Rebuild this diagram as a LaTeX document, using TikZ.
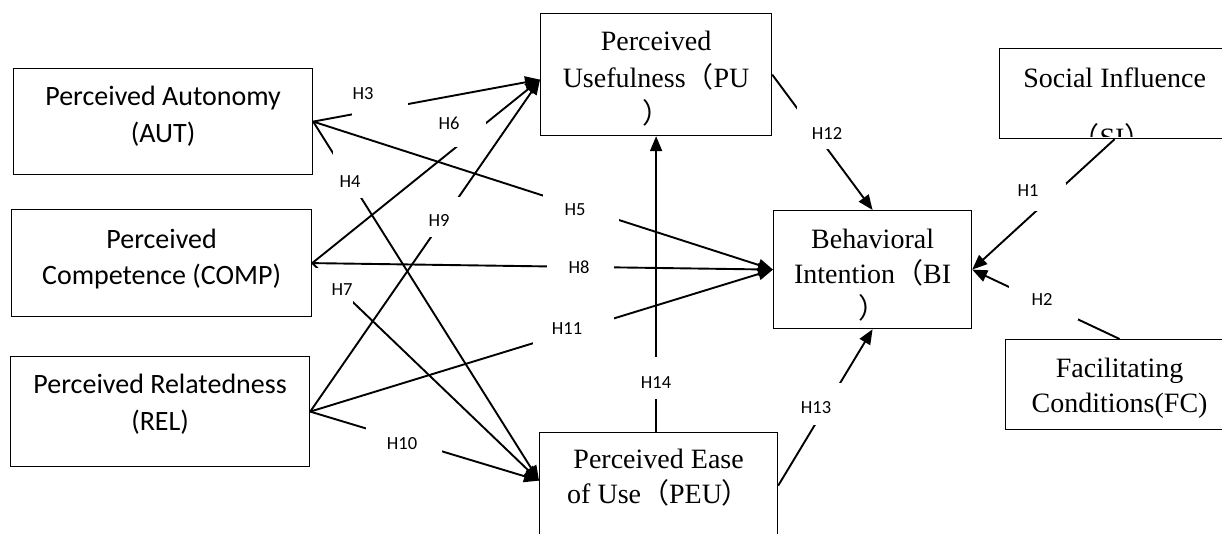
\documentclass[tikz,border=0pt]{standalone}
\usepackage{fontspec}
\setmainfont{Liberation Serif}
\newfontfamily\carlito{Carlito}
\newfontfamily\cjkf{Noto Sans CJK SC}
\usetikzlibrary{arrows.meta,calc}
\newcommand{\fwl}{{\cjkf （}}
\newcommand{\fwr}{{\cjkf ）}}
\newcommand{\tb}[1]{\begin{tabular}[t]{@{}c@{}}#1\end{tabular}}
\begin{document}
\begin{tikzpicture}[x=1pt,y=-1pt,
  box/.style={draw=black, line width=1.2pt, fill=white, inner sep=0pt, rectangle, anchor=north west},
  sansfont/.style={font=\carlito\fontsize{28}{37}\selectfont},
  seriffont/.style={font=\fontsize{28}{35}\selectfont},
  conn/.style={line width=1.9pt, -{Triangle[length=15pt,width=12pt]}},
  hlab/.style={font=\carlito\fontsize{18.5}{20}\selectfont, inner sep=0pt, text height=12pt, text depth=0pt},
  gap/.style={fill=white}
]
\useasboundingbox (0,0) rectangle (1222,533);
\clip (0,0) rectangle (1222,533);

% boxes
\node[box, sansfont, minimum width=299pt, text height=37pt, text depth=69pt] (aut) at (13,68) {\tb{Perceived Autonomy\\(AUT)}};
\node[box, sansfont, minimum width=300pt, text height=39pt, text depth=68pt, font=\carlito\fontsize{28}{36}\selectfont] (comp) at (11,209) {\tb{Perceived\\Competence (COMP)}};
\node[box, sansfont, minimum width=299pt, text height=37pt, text depth=73pt] (rel) at (10,356) {\tb{Perceived Relatedness\\(REL)}};
\node[box, seriffont, minimum width=231pt, text height=37pt, text depth=85pt, font=\fontsize{28}{36.5}\selectfont] (pu) at (540,13) {\tb{Perceived\\Usefulness\fwl PU\\\fwr}};
\node[box, seriffont, minimum width=198pt, text height=38pt, text depth=80pt] (bi) at (773,210) {\tb{Behavioral\\Intention\fwl BI\\\fwr}};
\node[box, seriffont, minimum width=230pt, text height=39pt, text depth=51pt] (si) at (999,48) {Social Influence};
\begin{scope}
  \clip (999,48) rectangle (1229,136.5);
  \node[seriffont, anchor=base, inner sep=0pt] (siT) at (1112,147) {\fwl SI\fwr};
\end{scope}
\node[box, seriffont, minimum width=228pt, text height=38pt, text depth=52pt] (fc) at (1005,339) {\tb{Facilitating\\Conditions(FC)}};
\node[box, seriffont, minimum width=238pt, text height=36pt, text depth=92pt] (peu) at (539,432) {\tb{Perceived Ease\\of Use\fwl PEU\fwr}};

% connectors
\draw[conn] (aut.east) -- ($(pu.west)+(0,5)$);
\draw[conn] (aut.east) -- ($(peu.west)+(0,-16)$);
\draw[conn] (aut.east) -- (bi.west);
\draw[conn] (comp.east) -- ($(pu.west)+(0,5)$);
\draw[conn] (comp.east) -- ($(peu.west)+(0,-16)$);
\draw[conn] (comp.east) -- (bi.west);
\draw[conn] (rel.east) -- ($(pu.west)+(0,5)$);
\draw[conn] (rel.east) -- ($(peu.west)+(0,-16)$);
\draw[conn] (rel.east) -- (bi.west);
\draw[conn] (pu.east) -- (bi.north);
\draw[conn] ($(peu.east)+(0,-11)$) -- (bi.south);
\draw[conn] (peu.north -| pu.south) -- (pu.south);
\draw[conn] (si.south) -- (bi.east);
\draw[conn] (fc.north) -- (bi.east);

% white label boxes (gaps)
\fill[gap] (352,82) rectangle (408,118);
\fill[gap] (430,112) rectangle (486,147);
\fill[gap] (422,197) rectangle (470,237);
\fill[gap] (333,150) rectangle (388,198);
\fill[gap] (543,190) rectangle (619,232);
\fill[gap] (547,250) rectangle (614,282);
\fill[gap] (533,312) rectangle (614,350);
\fill[gap] (313,268) rectangle (353,305);
\fill[gap] (366,420) rectangle (442,458);
\fill[gap] (630,357) rectangle (680,399);
\fill[gap] (797,100) rectangle (852,149);
\fill[gap] (1012,183) rectangle (1066,211);
\fill[gap] (1009,284) rectangle (1078,320);
\fill[gap] (796,383) rectangle (860,425);

% labels
\node[hlab] (h1) at (1028,190) {H1};
\node[hlab] (h2) at (1042,299) {H2};
\node[hlab] (h3) at (363,93) {H3};
\node[hlab] (h4) at (350,181) {H4};
\node[hlab] (h5) at (575,209) {H5};
\node[hlab] (h6) at (449,123) {H6};
\node[hlab] (h7) at (342,289) {H7};
\node[hlab] (h8) at (579,267) {H8};
\node[hlab] (h9) at (439,220) {H9};
\node[hlab] (h10) at (402,443) {H10};
\node[hlab] (h11) at (567,328) {H11};
\node[hlab] (h12) at (827,133) {H12};
\node[hlab] (h13) at (816,407) {H13};
\node[hlab] (h14) at (656,382) {H14};
\end{tikzpicture}
\end{document}
